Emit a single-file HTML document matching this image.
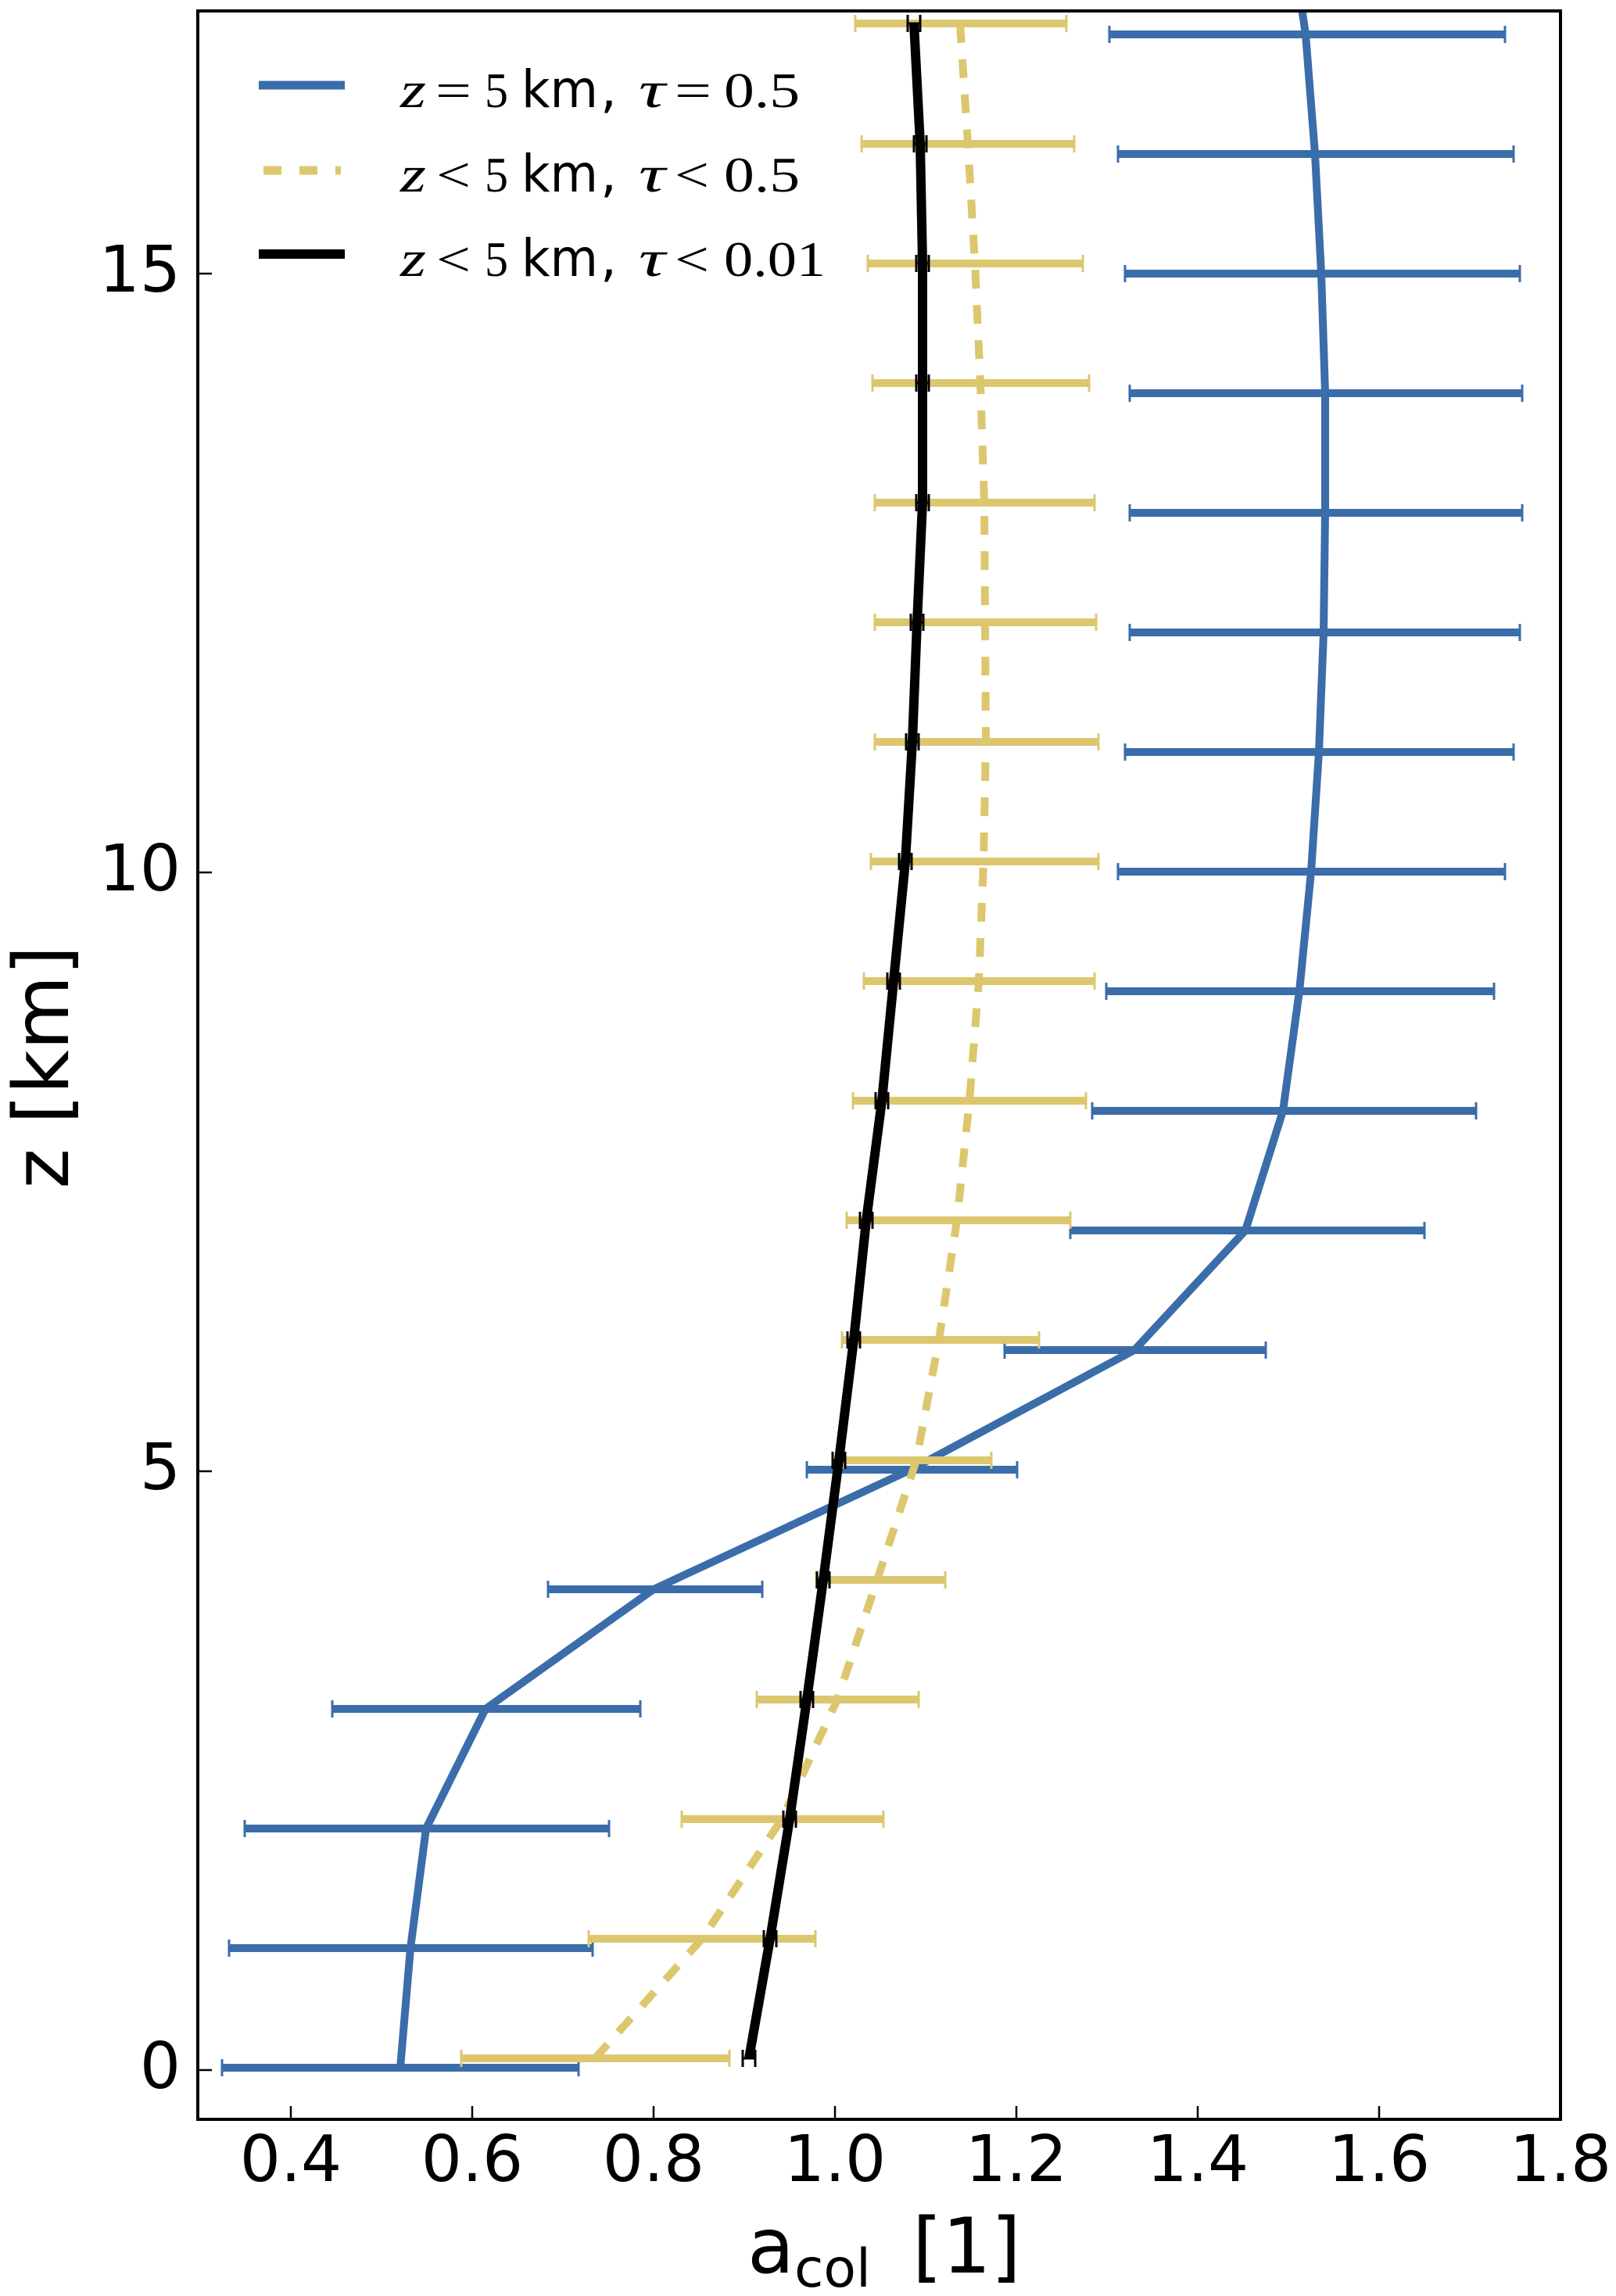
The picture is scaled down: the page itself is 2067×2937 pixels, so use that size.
<!DOCTYPE html>
<html><head><meta charset="utf-8"><style>
html,body{margin:0;padding:0;background:#fff;}
svg{display:block;}
.tl{font-family:"DejaVu Sans","Liberation Sans",sans-serif;font-size:82px;fill:#000;}
.lab{font-family:"DejaVu Sans","Liberation Sans",sans-serif;fill:#000;}
.mi{font-family:"Liberation Serif",serif;font-style:italic;font-size:66px;fill:#000;}
.mr{font-family:"Liberation Serif",serif;font-size:64px;fill:#000;}
.ms{font-family:"DejaVu Sans","Liberation Sans",sans-serif;font-size:66px;fill:#000;}
</style></head><body>
<svg width="2067" height="2937" viewBox="0 0 2067 2937" xmlns="http://www.w3.org/2000/svg">
<rect x="0" y="0" width="2067" height="2937" fill="#fff"/>
<defs><clipPath id="c"><rect x="253" y="14" width="1743" height="2697"/></clipPath></defs>
<g clip-path="url(#c)">
<!-- blue error bars -->
<g stroke="#3a6daa" stroke-width="10" fill="none">
<path d="M284 2645H740M293 2492H758M313 2339H779M425 2186H819M701 2033H975M1032 1880H1301M1285 1727H1619M1369 1574H1822M1397 1421H1888M1415 1268H1911M1430 1115H1925M1439 962H1936M1445 809H1944M1445 656H1947M1445 503H1947M1439 350H1944M1430 197H1936M1419 44H1925"/>
</g>
<g stroke="#3a6daa" stroke-width="3" fill="none">
<path d="M284 2634v22M740 2634v22M293 2481v22M758 2481v22M313 2328v22M779 2328v22M425 2175v22M819 2175v22M701 2022v22M975 2022v22M1032 1869v22M1301 1869v22M1285 1716v22M1619 1716v22M1369 1563v22M1822 1563v22M1397 1410v22M1888 1410v22M1415 1257v22M1911 1257v22M1430 1104v22M1925 1104v22M1439 951v22M1936 951v22M1445 798v22M1944 798v22M1445 645v22M1947 645v22M1445 492v22M1947 492v22M1439 339v22M1944 339v22M1430 186v22M1936 186v22M1419 33v22M1925 33v22"/>
</g>
<polyline fill="none" stroke="#3a6daa" stroke-width="10" stroke-linejoin="round" points="512,2645 525,2492 545,2339 621,2186 836,2033 1165,1880 1451,1727 1593,1574 1641,1421 1662,1268 1677,1115 1687,962 1693,809 1695,656 1695,503 1690,350 1682,197 1670,44 1665,10"/>
<!-- yellow error bars -->
<g stroke="#ddc76e" stroke-width="10" fill="none">
<path d="M590 2633H933M753 2480H1043M872 2327H1130M968 2174H1175M1044 2021H1209M1079 1868H1268M1077 1714H1329M1083 1561H1369M1091 1408H1389M1105 1255H1400M1114 1102H1405M1119 949H1405M1119 796H1402M1119 643H1400M1116 490H1393M1110 337H1385M1102 184H1374M1094 30H1364"/>
</g>
<g stroke="#ddc76e" stroke-width="3" fill="none">
<path d="M590 2622v22M933 2622v22M753 2469v22M1043 2469v22M872 2316v22M1130 2316v22M968 2163v22M1175 2163v22M1044 2010v22M1209 2010v22M1079 1857v22M1268 1857v22M1077 1703v22M1329 1703v22M1083 1550v22M1369 1550v22M1091 1397v22M1389 1397v22M1105 1244v22M1400 1244v22M1114 1091v22M1405 1091v22M1119 938v22M1405 938v22M1119 785v22M1402 785v22M1119 632v22M1400 632v22M1116 479v22M1393 479v22M1110 326v22M1385 326v22M1102 173v22M1374 173v22M1094 19v22M1364 19v22"/>
</g>
<polyline fill="none" stroke="#ddc76e" stroke-width="10" stroke-dasharray="24 21" points="761,2633 898,2480 1000,2327 1071,2174 1122,2021 1172,1868 1201,1714 1224,1561 1240,1408 1252,1255 1258,1102 1261,949 1260,796 1259,643 1254,490 1247,337 1238,184 1228,30"/>
<!-- black -->
<polyline fill="none" stroke="#000" stroke-width="12" stroke-linejoin="round" points="958,2633 985,2480 1010,2327 1032,2174 1053,2021 1073,1868 1092,1714 1108,1561 1128,1408 1143,1255 1158,1102 1167,949 1173,796 1180,643 1180,490 1180,337 1177,184 1169,30"/>
<g stroke="#000" stroke-width="3" fill="none">
<path d="M950 2633h16M950 2622v22M966 2622v22M977 2480h16M977 2469v22M993 2469v22M1002 2327h16M1002 2316v22M1018 2316v22M1024 2174h16M1024 2163v22M1040 2163v22M1045 2021h16M1045 2010v22M1061 2010v22M1065 1868h16M1065 1857v22M1081 1857v22M1084 1714h16M1084 1703v22M1100 1703v22M1100 1561h16M1100 1550v22M1116 1550v22M1120 1408h16M1120 1397v22M1136 1397v22M1135 1255h16M1135 1244v22M1151 1244v22M1150 1102h16M1150 1091v22M1166 1091v22M1159 949h16M1159 938v22M1175 938v22M1165 796h16M1165 785v22M1181 785v22M1172 643h16M1172 632v22M1188 632v22M1172 490h16M1172 479v22M1188 479v22M1172 337h16M1172 326v22M1188 326v22M1169 184h16M1169 173v22M1185 173v22M1161 30h16M1161 19v22M1177 19v22"/>
</g>
</g>
<!-- axes frame -->
<rect x="253" y="14" width="1743" height="2697" fill="none" stroke="#000" stroke-width="4"/>
<!-- ticks -->
<g stroke="#000" stroke-width="2.5">
<path d="M372 2711v-17M604 2711v-17M836 2711v-17M1068 2711v-17M1300 2711v-17M1532 2711v-17M1764 2711v-17"/>
<path d="M253 2648h18M253 1882h18M253 1116h18M253 350h18"/>
</g>
<!-- tick labels -->
<g class="tl" text-anchor="middle">
<text x="372" y="2790">0.4</text>
<text x="604" y="2790">0.6</text>
<text x="836" y="2790">0.8</text>
<text x="1068" y="2790">1.0</text>
<text x="1300" y="2790">1.2</text>
<text x="1532" y="2790">1.4</text>
<text x="1764" y="2790">1.6</text>
<text x="1996" y="2790">1.8</text>
</g>
<g class="tl" text-anchor="end">
<text x="231" y="2671">0</text>
<text x="231" y="1905">5</text>
<text x="231" y="1139">10</text>
<text x="231" y="373">15</text>
</g>
<!-- axis labels -->
<text class="lab" x="956" y="2907" font-size="98">a</text>
<text class="lab" x="1016" y="2925" font-size="68">col</text>
<text class="lab" x="1167" y="2907" font-size="98">[1]</text>
<text class="lab" font-size="98" text-anchor="middle" transform="translate(87,1365) rotate(-90)">z [km]</text>
<!-- legend -->
<line x1="331" y1="109" x2="441" y2="109" stroke="#3a6daa" stroke-width="11"/>
<line x1="337" y1="218" x2="436" y2="218" stroke="#ddc76e" stroke-width="11" stroke-dasharray="23 23"/>
<line x1="331" y1="325" x2="441" y2="325" stroke="#000" stroke-width="12"/>
<g>
<text class="mi" x="512" y="137" textLength="33" lengthAdjust="spacingAndGlyphs">z</text>
<text class="mr" x="557" y="137" textLength="46" lengthAdjust="spacingAndGlyphs">=</text>
<text class="mr" x="620" y="137" textLength="30" lengthAdjust="spacingAndGlyphs">5</text>
<text class="ms" x="667" y="137" textLength="98" lengthAdjust="spacingAndGlyphs">km</text>
<text class="ms" x="768" y="137">,</text>
<text class="mi" x="817" y="137" textLength="34" lengthAdjust="spacingAndGlyphs">τ</text>
<text class="mr" x="863" y="137" textLength="47" lengthAdjust="spacingAndGlyphs">=</text>
<text class="mr" x="926" y="137" textLength="97" lengthAdjust="spacingAndGlyphs">0.5</text>

<text class="mi" x="512" y="245" textLength="33" lengthAdjust="spacingAndGlyphs">z</text>
<text class="mr" x="558" y="245" textLength="44" lengthAdjust="spacingAndGlyphs">&lt;</text>
<text class="mr" x="620" y="245" textLength="30" lengthAdjust="spacingAndGlyphs">5</text>
<text class="ms" x="667" y="245" textLength="98" lengthAdjust="spacingAndGlyphs">km</text>
<text class="ms" x="768" y="245">,</text>
<text class="mi" x="817" y="245" textLength="34" lengthAdjust="spacingAndGlyphs">τ</text>
<text class="mr" x="863" y="245" textLength="44" lengthAdjust="spacingAndGlyphs">&lt;</text>
<text class="mr" x="926" y="245" textLength="97" lengthAdjust="spacingAndGlyphs">0.5</text>

<text class="mi" x="512" y="353" textLength="33" lengthAdjust="spacingAndGlyphs">z</text>
<text class="mr" x="558" y="353" textLength="44" lengthAdjust="spacingAndGlyphs">&lt;</text>
<text class="mr" x="620" y="353" textLength="30" lengthAdjust="spacingAndGlyphs">5</text>
<text class="ms" x="667" y="353" textLength="98" lengthAdjust="spacingAndGlyphs">km</text>
<text class="ms" x="768" y="353">,</text>
<text class="mi" x="817" y="353" textLength="34" lengthAdjust="spacingAndGlyphs">τ</text>
<text class="mr" x="863" y="353" textLength="44" lengthAdjust="spacingAndGlyphs">&lt;</text>
<text class="mr" x="926" y="353" textLength="130" lengthAdjust="spacingAndGlyphs">0.01</text>
</g>
</svg>
</body></html>
